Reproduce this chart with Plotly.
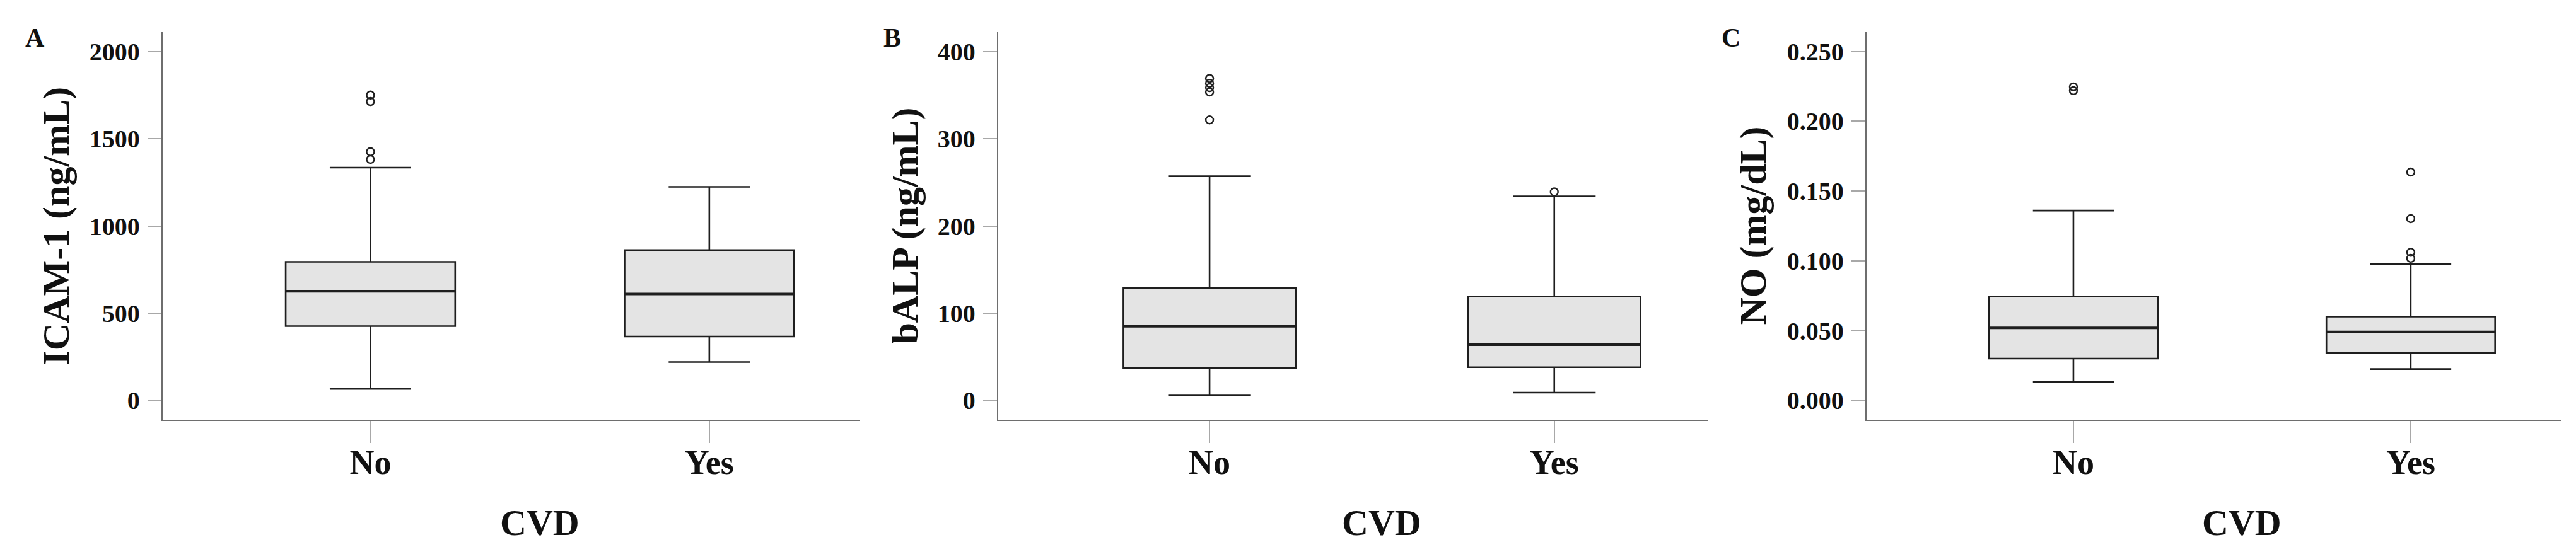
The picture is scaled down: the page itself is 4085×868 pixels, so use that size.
import plotly.graph_objects as go

# ---------------- data ----------------
categories = ["No", "Yes"]

# Panel A: ICAM-1 (ng/mL)
icam_lower = [66, 220]
icam_q1 = [426, 366]
icam_median = [626, 610]
icam_q3 = [794, 862]
icam_upper = [1334, 1224]
icam_out_x = ["No", "No", "No", "No"]
icam_out_y = [1750, 1713, 1425, 1381]

# Panel B: bALP (ng/mL)
balp_lower = [5.6, 9]
balp_q1 = [37, 38]
balp_median = [85, 64]
balp_q3 = [129, 119]
balp_upper = [257, 234]
balp_out_x = ["No", "No", "No", "No", "No", "Yes"]
balp_out_y = [369, 363.5, 358.5, 353.5, 321.5, 239]

# Panel C: NO (mg/dL)
no_lower = [0.0133, 0.0225]
no_q1 = [0.030, 0.034]
no_median = [0.052, 0.049]
no_q3 = [0.0743, 0.060]
no_upper = [0.136, 0.0975]
no_out_x = ["No", "No", "Yes", "Yes", "Yes", "Yes"]
no_out_y = [0.2246, 0.2219, 0.1636, 0.1302, 0.1061, 0.1018]

panel_letters = ["A", "B", "C"]
y_titles = ["ICAM-1 (ng/mL)", "bALP (ng/mL)", "NO (mg/dL)"]
x_title = "CVD"
y_ticks = [
    [0, 500, 1000, 1500, 2000],
    [0, 100, 200, 300, 400],
    [0.0, 0.05, 0.10, 0.15, 0.20, 0.25],
]
y_ranges = [[-110.5, 2110.5], [-22.1, 422.1], [-0.0138, 0.2638]]
y_formats = ["d", "d", ".3f"]

# ---------------- styling ----------------
W, H = 4085, 868
FONT = "Liberation Serif"
BOX_FILL = "#e4e4e4"
BOX_LINE = "#1e1e1e"
AXIS_LINE = "#6e6e6e"
TICK_COL = "#a8a8a8"

x_domains_px = [(250, 1356), (1575, 2700), (2952, 4053)]
y_dom = [1 - 658 / H, 1 - 43 / H]
ytitle_shift = [-170, -149, -181]
letter_x_px = [47, 1407, 2737]

panels = [
    (icam_lower, icam_q1, icam_median, icam_q3, icam_upper, icam_out_x, icam_out_y),
    (balp_lower, balp_q1, balp_median, balp_q3, balp_upper, balp_out_x, balp_out_y),
    (no_lower, no_q1, no_median, no_q3, no_upper, no_out_x, no_out_y),
]

fig = go.Figure()
annotations = []

for i, (lo, q1, med, q3, up, ox, oy) in enumerate(panels):
    xa = "x" if i == 0 else f"x{i+1}"
    ya = "y" if i == 0 else f"y{i+1}"
    fig.add_trace(go.Box(
        x=categories, q1=q1, median=med, q3=q3, lowerfence=lo, upperfence=up,
        width=0.5, whiskerwidth=0.48, fillcolor=BOX_FILL,
        line=dict(color=BOX_LINE, width=2.6), boxpoints=False,
        showlegend=False, xaxis=xa, yaxis=ya,
    ))
    # thicker median line, drawn from the same median values
    fig.add_trace(go.Box(
        x=categories, q1=med, median=med, q3=med, lowerfence=med, upperfence=med,
        width=0.5, whiskerwidth=0.0, fillcolor="rgba(0,0,0,0)",
        line=dict(color=BOX_LINE, width=4.2), boxpoints=False,
        showlegend=False, xaxis=xa, yaxis=ya, hoverinfo="skip",
    ))
    fig.add_trace(go.Scatter(
        x=ox, y=oy, mode="markers",
        marker=dict(symbol="circle-open", size=12, color=BOX_LINE,
                    line=dict(color=BOX_LINE, width=2.4)),
        showlegend=False, xaxis=xa, yaxis=ya,
    ))

    x0, x1 = x_domains_px[i]
    xkey = "xaxis" if i == 0 else f"xaxis{i+1}"
    ykey = "yaxis" if i == 0 else f"yaxis{i+1}"
    fig.update_layout(**{
        xkey: dict(
            domain=[x0 / W, x1 / W], anchor=ya, type="category",
            categoryorder="array", categoryarray=categories,
            range=[-0.613, 1.445], showgrid=False, zeroline=False,
            showline=True, linecolor=AXIS_LINE, linewidth=2.4,
            ticks="outside", ticklen=35, tickwidth=1.5, tickcolor=TICK_COL,
            ticklabelstandoff=-16,
            tickfont=dict(family=FONT, size=54, color="#111", weight="bold"),
        ),
        ykey: dict(
            domain=y_dom, anchor=xa, range=y_ranges[i],
            tickvals=y_ticks[i], tickformat=y_formats[i],
            showgrid=False, zeroline=False,
            showline=True, linecolor=AXIS_LINE, linewidth=2.4,
            ticks="outside", ticklen=22, tickwidth=2, tickcolor=TICK_COL,
            ticklabelstandoff=4,
            tickfont=dict(family=FONT, size=40, color="#111", weight="bold"),
        ),
    })

    annotations.append(dict(
        text=f"<b>{y_titles[i]}</b>", textangle=-90,
        xref=f"{xa} domain", yref=f"{ya} domain", x=0, y=0.5,
        xshift=ytitle_shift[i], xanchor="center", yanchor="middle",
        showarrow=False, font=dict(family=FONT, size=60, color="#111"),
    ))
    annotations.append(dict(
        text=f"<b>{x_title}</b>", xref=xa, yref="paper", x=0.5, y=1 - 821 / H,
        xanchor="center", yanchor="middle", showarrow=False,
        font=dict(family=FONT, size=58, color="#111"),
    ))
    annotations.append(dict(
        text=f"<b>{panel_letters[i]}</b>", xref="paper", yref="paper",
        x=letter_x_px[i] / W, y=1 - 52 / H, xanchor="center", yanchor="middle",
        showarrow=False, font=dict(family=FONT, size=42, color="#111"),
    ))

fig.update_layout(
    width=W, height=H, margin=dict(l=0, r=0, t=0, b=0),
    paper_bgcolor="white", plot_bgcolor="white",
    boxmode="overlay", annotations=annotations, showlegend=False,
)

fig.write_html("out.html")
